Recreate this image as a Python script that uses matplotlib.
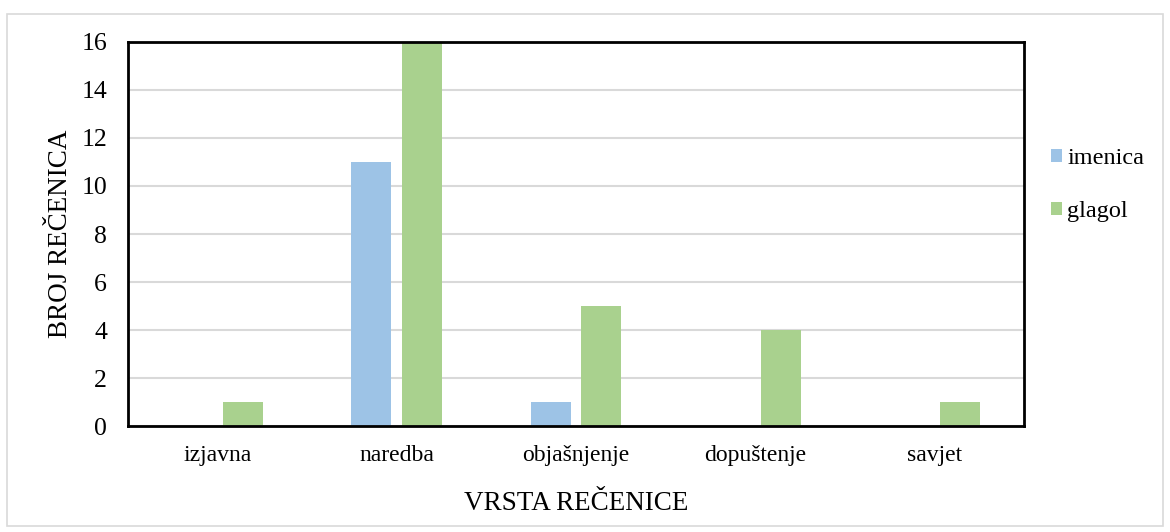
import matplotlib.pyplot as plt
import numpy as np
from matplotlib.patches import Rectangle

categories = ["izjavna", "naredba", "objašnjenje", "dopuštenje", "savjet"]
imenica = [0, 11, 1, 0, 0]
glagol = [1, 16, 5, 4, 1]
yticks = [0, 2, 4, 6, 8, 10, 12, 14, 16]

plt.rcParams["font.family"] = ["Liberation Serif", "DejaVu Serif"]

fig = plt.figure(figsize=(11.7, 5.32), dpi=100)
fig.patches.append(Rectangle((0.006, 0.012), 0.988, 0.962, transform=fig.transFigure,
                             fill=False, edgecolor="#d9d9d9", linewidth=1.2))
ax = fig.add_axes([0.1094, 0.1992, 0.7658, 0.7219])

x = np.arange(len(categories))
w = 0.223
ax.bar(x - 0.142, imenica, w, color="#9DC3E6", label="imenica", zorder=2)
ax.bar(x + 0.142, glagol, w, color="#A9D18E", label="glagol", zorder=2)

ax.set_xlim(-0.5, len(categories) - 0.5)
ax.set_ylim(0, 16)
ax.set_yticks(yticks)
ax.set_xticks(x)
ax.set_xticklabels(categories)
ax.tick_params(axis="y", labelsize=18.5, length=0, pad=15)
ax.tick_params(axis="x", labelsize=17, length=0, pad=14)
ax.grid(axis="y", color="#d9d9d9", linewidth=1.5, zorder=0)
for s in ax.spines.values():
    s.set_linewidth(2)
    s.set_color("black")

ax.set_xlabel("VRSTA REČENICE", fontsize=19.5, labelpad=18)
ax.set_ylabel("BROJ REČENICA", fontsize=19.5, labelpad=6)

ax.legend(loc="center left", bbox_to_anchor=(1.006, 0.627), frameon=False, fontsize=17.5,
          handlelength=0.45, handleheight=0.45, handletextpad=0.2, labelspacing=1.3)

fig.savefig("out.png", dpi=100)
